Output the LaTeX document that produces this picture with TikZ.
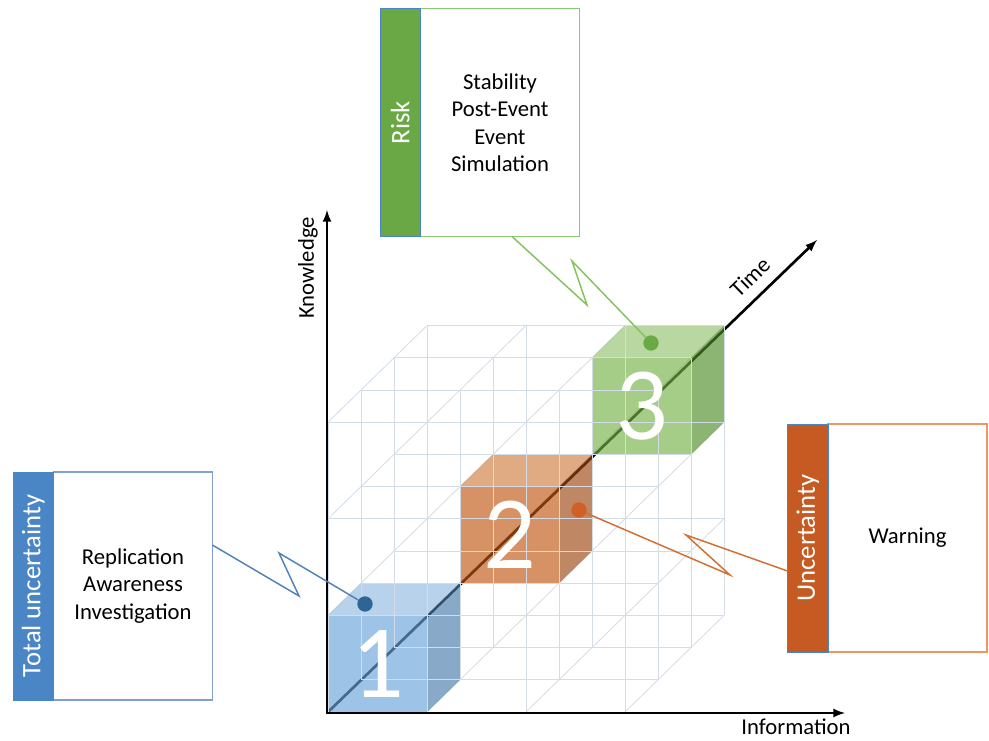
\documentclass[tikz,border=0pt]{standalone}
\usepackage{fontspec}
\setmainfont{Carlito}
\usepackage{tikz}
\usetikzlibrary{positioning}

\definecolor{barblue}{RGB}{74,134,198}
\definecolor{bargreen}{RGB}{106,168,69}
\definecolor{barorange}{RGB}{197,90,34}
\definecolor{edgeblue}{RGB}{130,160,215}
\definecolor{edgegreen}{RGB}{140,200,110}
\definecolor{edgeorange}{RGB}{240,150,100}
\definecolor{lineblue}{RGB}{80,130,180}
\definecolor{linegreen}{RGB}{130,195,95}
\definecolor{lineorange}{RGB}{210,110,50}
\definecolor{dotblue}{RGB}{46,100,150}
\definecolor{dotgreen}{RGB}{106,170,69}
\definecolor{dotorange}{RGB}{210,95,40}
\definecolor{gridgray}{RGB}{212,220,230}
\definecolor{onefront}{RGB}{104,163,217}
\definecolor{onetop}{RGB}{147,186,224}
\definecolor{oneside}{RGB}{72,124,170}
\definecolor{twofront}{RGB}{192,87,17}
\definecolor{twotop}{RGB}{207,124,63}
\definecolor{twoside}{RGB}{158,70,17}
\definecolor{threefront}{RGB}{117,178,70}
\definecolor{threetop}{RGB}{147,193,109}
\definecolor{threeside}{RGB}{78,140,40}

\begin{document}
\begin{tikzpicture}[x=0.75pt,y=0.75pt,
    cubeframe/.style={shift={(246pt,21pt)},x={(24.75pt,0pt)},y={(0pt,24.15pt)},z={(24.75pt,24.15pt)}},
    cubeface/.style={fill opacity=0.65},
    gridline/.style={draw=gridgray,line width=0.6pt},
    axisline/.style={line width=2pt,>=latex},
    axislabel/.style={font=\fontsize{17}{20}\selectfont},
    bignum/.style={text=white,font=\fontsize{78}{80}\selectfont},
    labelbox/.style={draw,fill=white,line width=1.1pt,minimum width=119pt,minimum height=171pt,
      inner sep=0pt,outer sep=0pt,align=center,font=\fontsize{17}{20.6}\selectfont},
    colourbar/.style={draw=barblue,line width=0.6pt,minimum width=30.5pt,minimum height=171pt,
      inner sep=0pt,outer sep=0pt},
    bartext/.style={rotate=90,text=white,font=\fontsize{20}{24}\selectfont},
    spot/.style={circle,minimum size=11.5pt,inner sep=0pt},
    callout/.style={line width=1.1pt}]

  \useasboundingbox (0,0) rectangle (989,740);

  %% depth lines of the grid
  \begin{scope}[cubeframe]
    \foreach \gx in {0,3,6,9}
      \foreach \gy in {0,3,6,9}
        \draw[gridline] (\gx,\gy,0) -- (\gx,\gy,3);
    \coordinate (tstart) at (0,0,0);
  \end{scope}

  %% time axis
  \coordinate (ttip) at (817,500);
  \draw[axisline,->] (tstart) -- (ttip);
  \node[axislabel,rotate=44,inner sep=1pt] (timelabel) at (750,463) {Time};

  \begin{scope}[cubeframe]
    %% cubes
    % cube 1
    \fill[cubeface,fill=onefront] (0,0,0) -- (3,0,0) -- (3,3,0) -- (0,3,0) -- cycle;
    \fill[cubeface,fill=onetop] (0,3,0) -- (3,3,0) -- (3,3,1) -- (0,3,1) -- cycle;
    \fill[cubeface,fill=oneside] (3,0,0) -- (3,3,0) -- (3,3,1) -- (3,0,1) -- cycle;

    % cube 2
    \fill[cubeface,fill=twofront] (3,3,1) -- (6,3,1) -- (6,6,1) -- (3,6,1) -- cycle;
    \fill[cubeface,fill=twotop] (3,6,1) -- (6,6,1) -- (6,6,2) -- (3,6,2) -- cycle;
    \fill[cubeface,fill=twoside] (6,3,1) -- (6,6,1) -- (6,6,2) -- (6,3,2) -- cycle;

    % cube 3
    \fill[cubeface,fill=threefront] (6,6,2) -- (9,6,2) -- (9,9,2) -- (6,9,2) -- cycle;
    \fill[cubeface,fill=threetop] (6,9,2) -- (9,9,2) -- (9,9,3) -- (6,9,3) -- cycle;
    \fill[cubeface,fill=threeside] (9,6,2) -- (9,9,2) -- (9,9,3) -- (9,6,3) -- cycle;

    %% flat lines of the grid
    \foreach \gy in {0,3,6,9}
      \foreach \gz in {0,...,3}
        \draw[gridline] (0,\gy,\gz) -- (9,\gy,\gz);
    \foreach \gx in {0,3,6,9}
      \foreach \gz in {0,...,3}
        \draw[gridline] (\gx,0,\gz) -- (\gx,9,\gz);

    %% numbers
    \node[bignum] (numone) at (1.5,1.5,0) {1};
    \node[bignum] (numtwo) at (4.5,4.5,1) {2};
    \node[bignum] (numthree) at (7.5,7.5,2) {3};
  \end{scope}

  %% knowledge and information axes
  \coordinate (origin) at (327,27);
  \coordinate (ktip) at (327,530);
  \coordinate (itip) at (845,27);
  \draw[axisline,<->] (ktip) -- (origin) -- (itip);
  \node[axislabel,rotate=90] (knowlabel) at (308,472) {Knowledge};
  \node[axislabel,inner sep=1pt] (infolabel) at (796,13) {Information};

  %% boxes
  % total uncertainty
  \node[labelbox,draw=edgeblue] (replbody) at (133,154) {Replication\\Awareness\\Investigation};
  \node[colourbar,fill=barblue,left=0pt of replbody] (totalbar) {};
  \node[bartext] (totaltext) at (totalbar.center) {Total uncertainty};

  % risk
  \node[labelbox,draw=edgegreen] (riskbody) at (500,617.5) {Stability\\Post-Event\\Event\\Simulation};
  \node[colourbar,fill=bargreen,left=0pt of riskbody] (riskbar) {};
  \node[bartext] (risktext) at (riskbar.center) {Risk};

  % uncertainty
  \node[labelbox,draw=edgeorange] (warnbody) at (907.5,202) {Warning};
  \node[colourbar,fill=barorange,left=0pt of warnbody] (uncbar) {};
  \node[bartext] (unctext) at (uncbar.center) {Uncertainty};

  %% spots on the cubes
  \node[spot,fill=dotblue] (spotone) at (365,136) {};
  \node[spot,fill=dotorange] (spottwo) at (579,230) {};
  \node[spot,fill=dotgreen] (spotthree) at (651,397) {};

  %% callouts
  % total uncertainty -> cube 1
  \coordinate (zzonea) at (299,144);
  \coordinate (zzoneb) at (279,187);
  \draw[callout,lineblue] ([yshift=30.75pt]replbody.east) -- (zzonea) -- (zzoneb) -- (spotone);

  % risk -> cube 3
  \coordinate (zzthreea) at (587,435);
  \coordinate (zzthreeb) at (572,479);
  \draw[callout,linegreen] ([xshift=9pt]riskbody.south) -- (zzthreea) -- (zzthreeb) -- (spotthree);

  % cube 2 -> uncertainty
  \coordinate (zztwoa) at (730,165);
  \coordinate (zztwob) at (686,205);
  \draw[callout,lineorange] (spottwo) -- (zztwoa) -- (zztwob) -- ([yshift=-24.75pt]uncbar.west);

\end{tikzpicture}
\end{document}
